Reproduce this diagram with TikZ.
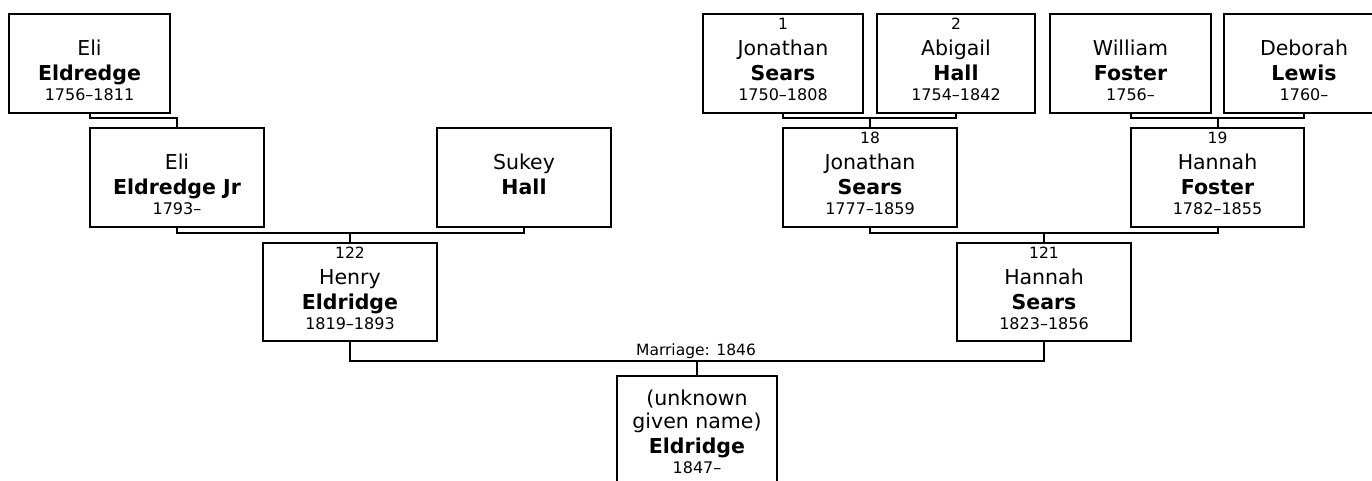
\documentclass[tikz,border=0pt]{standalone}
\usepackage{fontspec}
\setmainfont{DejaVu Sans}
\tikzset{
  pbox/.style={draw, line width=2pt, rectangle, inner sep=0pt, anchor=north west},
  conn/.style={line width=2pt},
  gname/.style={font=\fontsize{20.5}{24}\selectfont, anchor=base, inner sep=0pt},
  sname/.style={font=\fontsize{20.5}{24}\selectfont\bfseries, anchor=base, inner sep=0pt},
  dtxt/.style={font=\fontsize{16}{19}\selectfont, anchor=base, inner sep=0pt},
  ntxt/.style={font=\fontsize{15.5}{18}\selectfont, anchor=base, inner sep=0pt},
}
\newcommand{\pbox}[5]{\node[pbox, minimum width=#4pt, minimum height=#5pt] (#1) at (#2,#3) {};}
\newcommand{\ptext}[4]{\node[#2] (#1-#3) at ([yshift=-#3pt]#1.north) {#4};}
\newcommand{\couple}[4]{%
  \draw[conn] (#1.south) -- (#1.south |- 0,#4) -- (#2.south |- 0,#4) -- (#2.south);
  \draw[conn] (#3.north |- 0,#4) -- (#3.north);}
\begin{document}
\begin{tikzpicture}[x=1pt, y=-1pt]
\useasboundingbox (0,0) rectangle (1372,480);
\clip (0,0) rectangle (1372,480);
% generation 1
\pbox{eli}{8}{13}{161}{99}
\ptext{eli}{gname}{42}{Eli}
\ptext{eli}{sname}{67}{Eldredge}
\ptext{eli}{dtxt}{87}{1756–1811}
\pbox{jon1}{702}{13}{160}{99}
\ptext{jon1}{ntxt}{16}{1}
\ptext{jon1}{gname}{42}{Jonathan}
\ptext{jon1}{sname}{67}{Sears}
\ptext{jon1}{dtxt}{87}{1750–1808}
\pbox{abigail}{876}{13}{158}{99}
\ptext{abigail}{ntxt}{16}{2}
\ptext{abigail}{gname}{42}{Abigail}
\ptext{abigail}{sname}{67}{Hall}
\ptext{abigail}{dtxt}{87}{1754–1842}
\pbox{william}{1049}{13}{161}{99}
\ptext{william}{gname}{42}{William}
\ptext{william}{sname}{67}{Foster}
\ptext{william}{dtxt}{87}{1756–}
\pbox{deborah}{1223}{13}{160}{99}
\ptext{deborah}{gname}{42}{Deborah}
\ptext{deborah}{sname}{67}{Lewis}
\ptext{deborah}{dtxt}{87}{1760–}
% generation 2
\pbox{elijr}{89}{127}{174}{99}
\ptext{elijr}{gname}{42}{Eli}
\ptext{elijr}{sname}{67}{Eldredge Jr}
\ptext{elijr}{dtxt}{87}{1793–}
\pbox{sukey}{436}{127}{174}{99}
\ptext{sukey}{gname}{42}{Sukey}
\ptext{sukey}{sname}{67}{Hall}
\pbox{jon18}{782}{127}{174}{99}
\ptext{jon18}{ntxt}{16}{18}
\ptext{jon18}{gname}{42}{Jonathan}
\ptext{jon18}{sname}{67}{Sears}
\ptext{jon18}{dtxt}{87}{1777–1859}
\pbox{hfoster}{1130}{127}{173}{99}
\ptext{hfoster}{ntxt}{16}{19}
\ptext{hfoster}{gname}{42}{Hannah}
\ptext{hfoster}{sname}{67}{Foster}
\ptext{hfoster}{dtxt}{87}{1782–1855}
% generation 3
\pbox{henry}{262}{242}{174}{98}
\ptext{henry}{ntxt}{16}{122}
\ptext{henry}{gname}{42}{Henry}
\ptext{henry}{sname}{67}{Eldridge}
\ptext{henry}{dtxt}{87}{1819–1893}
\pbox{hsears}{956}{242}{174}{98}
\ptext{hsears}{ntxt}{16}{121}
\ptext{hsears}{gname}{42}{Hannah}
\ptext{hsears}{sname}{67}{Sears}
\ptext{hsears}{dtxt}{87}{1823–1856}
% generation 4
\pbox{child}{616}{375}{160}{120}
\ptext{child}{gname}{30}{(unknown}
\ptext{child}{gname}{53}{given name)}
\ptext{child}{sname}{78}{Eldridge}
\ptext{child}{dtxt}{98}{1847–}
% connectors
\draw[conn] (eli.south) -- (eli.south |- 0,118) -- (elijr.north |- 0,118) -- (elijr.north);
\couple{jon1}{abigail}{jon18}{118}
\couple{william}{deborah}{hfoster}{118}
\couple{elijr}{sukey}{henry}{232.5}
\couple{jon18}{hfoster}{hsears}{232.5}
\couple{henry}{hsears}{child}{361}
\node[ntxt] (mlabel) at (696,355) {Marriage: 1846};
\end{tikzpicture}
\end{document}
